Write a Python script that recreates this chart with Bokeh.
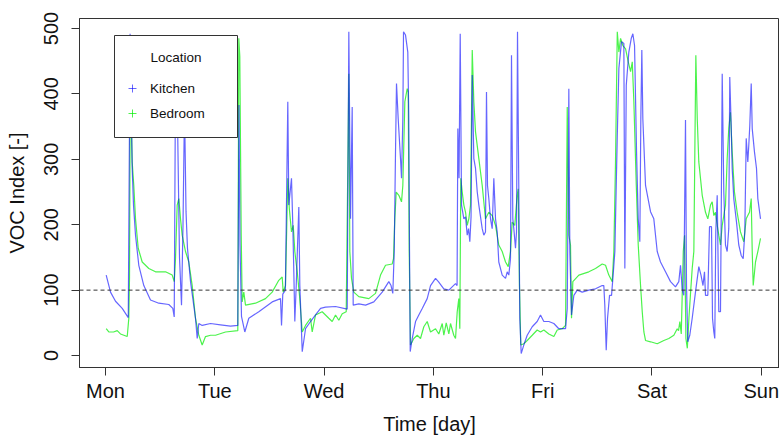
from bokeh.plotting import figure
from bokeh.models import (FixedTicker, Span, BoxAnnotation, Label, Legend,
                          LegendItem, Range1d)
from bokeh.embed import file_html
from bokeh.resources import INLINE

# ---------------- data ----------------
day_ticks = [0, 24, 48, 72, 96, 120, 144]          # hours since Monday 00:00
day_labels = ["Mon", "Tue", "Wed", "Thu", "Fri", "Sat", "Sun"]
voc_ticks = [0, 100, 200, 300, 400, 500]
threshold = 100

# Kitchen: [hour, VOC index]
kitchen = [
    [0.15, 123], [1.1, 97], [2.2, 83], [3.67, 72], [5.0, 58], [5.4, 492], [5.86, 286], [6.15, 230],
    [6.59, 184], [7.31, 138], [8.41, 107], [9.88, 85], [11.7, 80], [13.9, 78], [14.78, 72], [15.09, 59],
    [15.37, 420], [15.81, 360], [16.25, 150], [16.69, 77], [17.02, 200], [17.35, 380], [17.68, 220],
    [18.0, 164], [18.67, 113], [19.76, 57], [20.14, 26], [20.49, 49], [21.23, 46], [23.06, 49],
    [25.25, 47], [27.45, 45], [29.05, 46], [29.31, 383], [29.53, 170], [29.86, 60], [30.59, 36],
    [31.47, 57], [33.66, 67], [36.6, 82], [38.43, 87], [38.65, 46], [38.93, 94], [39.5, 100],
    [40.03, 388], [40.25, 230], [40.84, 271], [41.13, 199], [41.35, 128], [41.57, 52], [41.88, 107],
    [42.45, 227], [42.67, 107], [43.2, 6], [43.92, 41], [45.02, 52], [46.12, 62], [47.22, 72],
    [48.31, 74], [50.51, 75], [53.08, 71], [53.43, 495], [53.8, 209], [54.17, 380], [54.39, 77],
    [55.62, 79], [57.1, 77], [58.92, 82], [60.76, 97], [62.21, 113], [62.7, 107], [63.09, 95],
    [63.4, 159], [63.68, 311], [63.9, 416], [64.27, 362], [64.78, 301], [65.0, 271], [65.29, 362],
    [65.44, 495], [65.88, 490], [66.38, 464], [66.6, 362], [66.76, 159], [66.91, 6], [67.35, 26],
    [68.08, 52], [68.8, 62], [69.55, 72], [70.64, 87], [71.37, 107], [72.47, 118], [73.1, 113],
    [74.29, 102], [75.39, 100], [76.86, 110], [77.2, 107], [77.37, 347], [77.63, 271], [77.89, 492],
    [78.18, 230], [78.69, 209], [79.06, 212], [79.43, 184], [79.72, 194], [80.0, 174], [80.27, 212],
    [80.53, 429], [80.88, 301], [81.25, 286], [81.63, 250], [81.98, 230], [82.35, 212], [82.72, 194],
    [83.07, 184], [83.44, 189], [83.66, 403], [83.88, 260], [84.17, 240], [84.54, 209], [84.91, 194],
    [85.27, 271], [85.64, 209], [86.01, 189], [86.36, 143], [87.11, 123], [87.84, 118], [88.21, 128],
    [88.56, 123], [88.93, 148], [89.15, 459], [89.44, 209], [89.66, 194], [90.03, 164], [90.25, 189],
    [90.47, 495], [90.75, 260], [90.97, 57], [91.28, 3], [91.85, 16], [92.6, 31], [93.7, 44],
    [94.79, 52], [95.52, 62], [96.25, 52], [97.35, 52], [98.45, 49], [99.54, 41], [101.02, 41],
    [101.39, 72], [101.74, 408], [101.96, 159], [102.33, 62], [102.84, 92], [103.59, 100],
    [104.68, 97], [106.13, 100], [107.6, 102], [109.07, 107], [109.42, 107], [109.64, 77],
    [109.95, 8], [110.24, 57], [110.68, 92], [111.12, 92], [111.41, 118], [111.85, 159],
    [112.38, 337], [112.73, 439], [113.31, 480], [113.82, 477], [114.04, 133], [114.35, 413],
    [114.92, 464], [115.45, 485], [115.8, 492], [116.17, 474], [116.61, 311], [116.98, 209],
    [117.33, 174], [117.55, 362], [117.77, 467], [117.99, 362], [118.58, 260], [119.68, 220],
    [120.4, 209], [121.15, 159], [121.87, 143], [122.97, 128], [124.07, 113], [125.16, 105],
    [125.89, 113], [126.26, 138], [126.63, 102], [126.98, 92], [127.36, 360], [127.58, 107],
    [127.86, 21], [128.3, 31], [128.83, 57], [129.55, 97], [130.28, 136], [130.76, 123],
    [131.2, 107], [131.53, 128], [131.75, 92], [132.26, 92], [132.63, 197], [133.07, 197],
    [133.29, 57], [133.58, 36], [133.79, 26], [134.01, 189], [134.32, 245], [134.67, 67],
    [135.04, 67], [135.2, 209], [135.42, 431], [135.77, 250], [136.14, 169], [136.51, 159],
    [136.86, 194], [137.08, 426], [137.39, 352], [137.61, 286], [137.96, 240], [138.56, 204],
    [139.06, 169], [139.59, 153], [140.03, 148], [140.38, 189], [140.69, 332], [141.04, 296],
    [141.26, 322], [141.48, 352], [141.79, 416], [142.01, 347], [142.51, 311], [142.95, 286],
    [143.24, 240], [143.83, 209],
]

# Bedroom: [hour, VOC index]
bedroom = [
    [0.15, 41], [0.72, 36], [1.76, 36], [2.57, 38], [3.29, 33], [4.77, 29], [5.12, 57], [5.27, 118],
    [5.45, 440], [5.86, 296], [6.21, 260], [6.59, 209], [7.18, 164], [8.06, 143], [9.51, 133],
    [10.98, 128], [13.18, 128], [14.65, 123], [15.09, 113], [15.37, 148], [15.74, 230], [16.1, 240],
    [16.47, 209], [16.84, 184], [17.57, 159], [18.29, 143], [19.04, 107], [19.76, 57], [20.49, 31],
    [21.23, 16], [21.96, 29], [23.06, 31], [24.16, 31], [26.35, 36], [29.05, 38], [29.27, 485],
    [29.49, 457], [29.8, 184], [30.01, 82], [30.37, 97], [30.74, 77], [32.94, 80], [35.13, 87],
    [36.6, 97], [38.05, 115], [38.8, 120], [39.02, 97], [39.52, 107], [40.03, 271], [40.36, 225],
    [40.84, 189], [41.22, 199], [41.57, 159], [42.1, 128], [42.6, 92], [43.2, 36], [43.92, 46],
    [45.02, 57], [45.39, 36], [46.12, 62], [47.58, 67], [49.03, 57], [49.78, 52], [50.51, 62],
    [51.23, 54], [51.98, 64], [52.86, 67], [53.43, 431], [53.65, 159], [54.02, 118], [54.52, 97],
    [55.62, 90], [57.82, 87], [59.29, 95], [60.39, 123], [61.49, 138], [62.96, 140], [63.24, 148],
    [63.53, 209], [63.84, 250], [64.41, 245], [65.0, 235], [65.29, 260], [65.73, 388], [66.25, 408],
    [66.47, 403], [66.69, 159], [66.97, 16], [67.7, 26], [68.45, 31], [69.17, 26], [69.9, 44],
    [70.64, 52], [71.37, 36], [72.47, 41], [73.19, 33], [73.94, 49], [74.29, 31], [74.82, 50],
    [75.39, 33], [75.76, 49], [76.48, 31], [76.86, 26], [77.23, 67], [77.58, 87], [77.8, 41],
    [78.02, 271], [78.33, 250], [78.69, 230], [79.06, 219], [79.43, 199], [79.78, 209], [80.15, 230],
    [80.53, 467], [80.88, 388], [81.25, 342], [81.98, 301], [82.72, 260], [83.44, 209], [84.17, 219],
    [84.91, 214], [85.64, 199], [86.36, 169], [87.11, 159], [87.84, 143], [88.43, 136], [88.93, 159],
    [89.3, 204], [89.87, 199], [90.4, 245], [90.62, 255], [90.9, 107], [91.19, 16], [91.85, 18],
    [92.6, 23], [93.7, 31], [94.79, 39], [95.52, 36], [96.25, 39], [97.35, 33], [98.45, 29],
    [99.19, 39], [100.29, 41], [101.02, 46], [101.39, 380], [101.74, 184], [102.11, 169],
    [102.33, 57], [102.62, 113], [103.94, 123], [106.13, 128], [107.6, 133], [109.07, 140],
    [109.8, 138], [110.52, 123], [111.27, 113], [111.62, 159], [111.99, 296], [112.38, 495],
    [112.73, 464], [113.1, 485], [113.61, 474], [114.2, 469], [114.79, 449], [115.3, 434],
    [115.67, 449], [116.02, 388], [116.55, 260], [116.98, 169], [117.49, 107], [117.86, 67],
    [118.22, 36], [118.58, 23], [119.68, 21], [121.15, 18], [122.6, 23], [123.7, 26], [124.8, 31],
    [125.54, 41], [125.83, 38], [126.12, 52], [126.43, 33], [126.87, 159], [127.16, 184],
    [127.45, 26], [127.76, 11], [128.11, 57], [128.48, 97], [128.83, 133], [129.19, 159],
    [129.41, 311], [129.63, 459], [129.94, 362], [130.28, 296], [131.03, 245], [131.75, 219],
    [132.26, 209], [132.85, 230], [133.22, 235], [133.58, 214], [133.95, 219], [134.32, 199],
    [134.67, 184], [135.04, 169], [135.42, 199], [135.77, 214], [136.14, 230], [136.51, 301],
    [136.86, 347], [137.23, 372], [137.61, 311], [138.11, 250], [138.7, 219], [139.43, 189],
    [140.16, 174], [140.69, 209], [141.04, 214], [141.41, 219], [141.79, 240], [142.01, 159],
    [142.23, 107], [142.73, 143], [143.24, 159], [143.83, 179],
]

kitchen_h = [r[0] for r in kitchen]
kitchen_v = [r[1] for r in kitchen]
bedroom_h = [r[0] for r in bedroom]
bedroom_v = [r[1] for r in bedroom]

FONT = "Liberation Sans"
BLUE = "#0000ff"
GREEN = "#00ee00"

p = figure(width=779, height=437, output_backend="svg", toolbar_location=None,
           x_range=Range1d(-5.71, 148.0), y_range=Range1d(-18.3, 515.3),
           min_border_left=79, min_border_right=0, min_border_top=18,
           min_border_bottom=70)
p.grid.visible = False
p.outline_line_color = "#333333"
p.outline_line_width = 1
p.background_fill_color = "white"
p.border_fill_color = "white"

p.line(bedroom_h, bedroom_v, line_color=GREEN, line_alpha=0.7, line_width=1.2)
p.line(kitchen_h, kitchen_v, line_color=BLUE, line_alpha=0.6, line_width=1.2)

p.add_layout(Span(location=threshold, dimension="width", line_color="#333333",
                  line_dash="4 3", line_width=1))

# axes
for ax in (p.xaxis[0], p.yaxis[0]):
    ax.major_tick_in = 0
    ax.major_tick_out = 8
    ax.minor_tick_line_color = None
    ax.major_tick_line_color = "#333333"
    ax.axis_line_color = "#333333"
    ax.major_label_text_font = FONT
    ax.major_label_text_font_size = "20px"
    ax.major_label_text_color = "#111111"
    ax.axis_label_text_font = FONT
    ax.axis_label_text_font_size = "20px"
    ax.axis_label_text_font_style = "normal"
    ax.axis_label_text_color = "#111111"

p.xaxis.ticker = FixedTicker(ticks=day_ticks)
p.xaxis.major_label_overrides = {t: l for t, l in zip(day_ticks, day_labels)}
p.xaxis.major_label_standoff = 4
p.xaxis.axis_label = "Time [day]"
p.xaxis.axis_label_standoff = 8

p.yaxis.ticker = FixedTicker(ticks=voc_ticks)
p.yaxis.major_label_orientation = "vertical"
p.yaxis.major_label_standoff = 13
p.yaxis.axis_label = "VOC Index [-]"
p.yaxis.axis_label_standoff = 14

# legend box (screen units relative to the plot frame)
p.add_layout(BoxAnnotation(left=35, right=158, bottom=230, top=332,
                           left_units="screen", right_units="screen",
                           bottom_units="screen", top_units="screen",
                           fill_color="white", fill_alpha=1.0,
                           line_color="#333333", line_width=1, line_alpha=1.0))
p.add_layout(Label(x=96.5, y=310, x_units="screen", y_units="screen", text="Location",
                   text_align="center", text_baseline="middle", text_font=FONT,
                   text_font_size="13.5px", text_color="#111111"))

nan = float("nan")
k_mark = p.scatter(x=[nan], y=[nan], marker="cross", line_color=BLUE, line_alpha=0.6,
                   line_width=1, size=10)
b_mark = p.scatter(x=[nan], y=[nan], marker="cross", line_color=GREEN, line_alpha=0.7,
                   line_width=1, size=10)
legend = Legend(items=[LegendItem(label="Kitchen", renderers=[k_mark]),
                       LegendItem(label="Bedroom", renderers=[b_mark])],
                location=(43, 244), padding=0, spacing=5, glyph_width=20, glyph_height=20,
                label_height=20, label_standoff=8, margin=0,
                border_line_color=None, background_fill_alpha=0.0,
                label_text_font=FONT, label_text_font_size="13.5px",
                label_text_color="#111111")
p.add_layout(legend)

open("out.html", "w").write(file_html(p, INLINE))
